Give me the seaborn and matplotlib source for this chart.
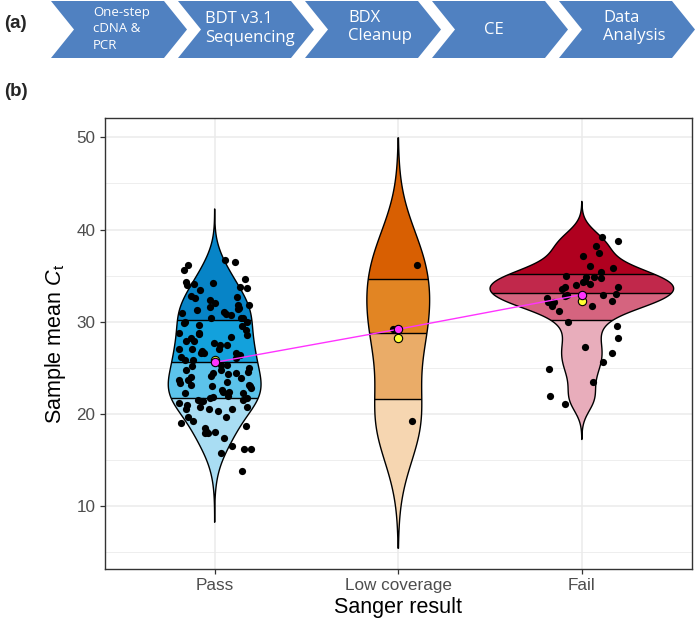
import numpy as np
import pandas as pd
import matplotlib
matplotlib.use("Agg")
import matplotlib.pyplot as plt
import seaborn as sns
from matplotlib.patches import Polygon, Rectangle

# ---------------- data ----------------
categories = ["Pass", "Low coverage", "Fail"]

pass_ct = [36.5, 36.7, 36.2, 35.6, 34.3, 34.6, 33.7, 34.0, 34.1, 33.8, 34.2, 33.5,
           32.8, 32.6, 32.4, 32.7, 32.0, 31.5, 31.8, 31.3, 31.8, 31.0, 31.6, 31.4,
           31.1, 30.9, 30.7, 30.4, 30.4, 30.4, 30.0, 29.7, 29.9, 30.0, 29.5, 29.1,
           28.6, 28.8, 28.7, 28.2, 28.8, 28.4, 27.9, 27.5, 27.9, 27.5, 27.1, 27.1,
           27.0, 27.7, 26.6, 26.8, 26.6, 25.9, 26.2, 26.4, 26.6, 26.1, 25.9, 25.3,
           24.8, 25.3, 25.2, 24.8, 24.6, 24.4, 24.3, 23.9, 23.5, 23.7, 23.7, 24.1,
           23.4, 23.0, 23.2, 23.2, 22.8, 22.4, 22.3, 22.4, 22.3, 21.9, 21.7, 21.5,
           21.7, 21.5, 21.4, 21.4, 21.2, 21.0, 20.8, 20.6, 20.5, 20.8, 20.5, 19.7,
           20.3, 19.7, 19.2, 19.0, 18.7, 18.5, 18.2, 18.1, 18.0, 17.9, 17.4, 16.5,
           16.2, 16.2, 15.8, 13.8, 25.0, 24.5, 23.0, 22.6, 24.0, 22.0]
low_ct = [36.2, 29.2, 19.2]
fail_ct = [38.8, 39.2, 38.2, 37.5, 37.1, 35.8, 36.1, 35.0, 34.4, 34.9, 34.9, 35.4,
           34.7, 34.3, 34.0, 34.1, 33.8, 33.8, 33.6, 33.0, 32.8, 32.9, 32.6, 32.2,
           32.1, 31.7, 31.7, 31.2, 30.0, 29.6, 28.2, 27.3, 26.6, 25.6, 24.9, 23.5,
           22.0, 21.1, 32.9, 32.3]

# quartile band colours, from top band to bottom band
band_colors = {
    "Pass": ["#0784c7", "#13a1dc", "#5cc3ea", "#a9ddf3"],
    "Low coverage": ["#d85f02", "#e28523", "#eaac68", "#f6d6b1"],
    "Fail": ["#b0001f", "#c1284b", "#d5647f", "#e8adbb"],
}

steps = ["One-step\ncDNA &\nPCR", "BDT v3.1\nSequencing", "BDX\nCleanup", "CE", "Data\nAnalysis"]

df = pd.DataFrame({
    "result": ["Pass"] * len(pass_ct) + ["Low coverage"] * len(low_ct) + ["Fail"] * len(fail_ct),
    "ct": pass_ct + low_ct + fail_ct,
})

# ---------------- style ----------------
sns.set_style("white")
plt.rcParams["font.family"] = ["Liberation Sans", "DejaVu Sans"]
plt.rcParams["mathtext.fontset"] = "custom"
plt.rcParams["mathtext.rm"] = "Liberation Sans"
plt.rcParams["mathtext.it"] = "Liberation Sans:italic"


def nrd0(kde):
    x = np.asarray(kde.dataset).ravel()
    sd = x.std(ddof=1)
    q75, q25 = np.percentile(x, [75, 25])
    h = 0.9 * min(sd, (q75 - q25) / 1.34) * len(x) ** -0.2
    return h / sd


W, H = 697, 618
fig = plt.figure(figsize=(W / 100, H / 100), dpi=100)
ax = fig.add_axes([104.5 / W, (H - 569) / H, 587.5 / W, 451 / H])

top_colors = {k: v[0] for k, v in band_colors.items()}
n0 = len(ax.collections)
sns.violinplot(data=df, x="result", y="ct", order=categories, hue="result",
               hue_order=categories, palette=top_colors, legend=False, inner=None,
               cut=3, bw_method=nrd0, width=1.0, density_norm="area", common_norm=True,
               gridsize=512, linewidth=1.0, linecolor="black", saturation=1, ax=ax)
violins = ax.collections[n0:]

for i, (cat, coll) in enumerate(zip(categories, violins)):
    path = coll.get_paths()[0]
    verts = path.vertices
    right = verts[verts[:, 0] > i + 1e-9]
    order = np.argsort(right[:, 1])
    y = right[order, 1]
    w = right[order, 0] - i
    seg = 0.5 * (w[1:] + w[:-1]) * np.diff(y)
    cdf = np.concatenate([[0], np.cumsum(seg)])
    cdf /= cdf[-1]
    qs = np.interp([0.25, 0.5, 0.75], cdf, y)
    edges = [y.min() - 1, qs[0], qs[1], qs[2], y.max() + 1]
    cols = band_colors[cat][::-1]
    for j in range(4):
        r = Rectangle((i - 0.6, edges[j]), 1.2, edges[j + 1] - edges[j],
                      facecolor=cols[j], edgecolor="none", zorder=1.5)
        ax.add_patch(r)
        r.set_clip_path(path, ax.transData)
    for q in qs:
        ln, = ax.plot([i - 0.6, i + 0.6], [q, q], color="black", lw=1.0, zorder=1.8)
        ln.set_clip_path(path, ax.transData)
    coll.set_facecolor("none")
    coll.set_zorder(2)

# pick a jitter seed whose low-coverage spread resembles the original
wanted = np.array([0.10, -0.03, 0.05])
best_seed, best_err = 0, 1e9
for s in range(5000):
    np.random.seed(s)
    np.random.uniform(-0.2, 0.2, len(pass_ct))
    b = np.random.uniform(-0.2, 0.2, len(low_ct))
    err = np.sum((b - wanted) ** 2)
    if err < best_err:
        best_seed, best_err = s, err
np.random.seed(best_seed)
sns.stripplot(data=df, x="result", y="ct", order=categories, color="black",
              size=5.2, jitter=0.2, ax=ax, zorder=3)

sns.pointplot(data=df, x="result", y="ct", order=categories, estimator="mean",
              errorbar=None, color="#ffff33", linestyle="none", markers="o",
              markersize=6, markeredgecolor="black", markeredgewidth=0.8, ax=ax)
sns.pointplot(data=df, x="result", y="ct", order=categories, estimator="median",
              errorbar=None, color="#ff33ff", markers="o", linewidth=1.0,
              markersize=6, markeredgecolor="black", markeredgewidth=0.8, ax=ax)
for ln in ax.lines[-2:]:
    ln.set_zorder(4)

ax.set_xlim(-0.6, 2.6)
ax.set_ylim(3.2, 52.1)
ax.set_yticks([10, 20, 30, 40, 50])
ax.set_yticks([5, 15, 25, 35, 45], minor=True)
ax.grid(which="major", color="#ebebeb", lw=1.1)
ax.grid(which="minor", axis="y", color="#ebebeb", lw=0.6)
ax.set_axisbelow(True)
for s in ax.spines.values():
    s.set_visible(True)
    s.set_color("#333333")
    s.set_linewidth(1.0)
ax.tick_params(which="major", length=3.5, width=0.9, color="#333333",
               labelcolor="#4d4d4d", labelsize=12.3, pad=3, left=True, bottom=True)
ax.tick_params(which="minor", length=0)
ax.set_xlabel("Sanger result", fontsize=15.5, color="black", labelpad=3)
ax.set_ylabel("Sample mean $C_{\\mathrm{t}}$", fontsize=15.5, color="black", labelpad=6)

fig.text(4 / W, 1 - 92 / H, "(b)", fontsize=13.5, fontweight="bold", va="center", ha="left")
fig.text(4 / W, 1 - 24 / H, "(a)", fontsize=13.5, fontweight="bold", va="center", ha="left")

# ---------------- workflow banner ----------------
axb = fig.add_axes([0, 1 - 62 / H, 1, 62 / H])
axb.set_xlim(0, W)
axb.set_ylim(62, 0)
axb.axis("off")
y0, y1 = 1, 58
ym = (y0 + y1) / 2
body, d = 113, 23
text_x = [93, 205, 348, 484, 603]
text_y = [29, 28.5, 27, 30, 27]
text_size = [9.5, 12, 12, 12, 12]
text_ls = [1.35, 1.25, 1.25, 1.25, 1.25]
for k, label in enumerate(steps):
    L = 51 + 127 * k
    poly = Polygon([(L, y0), (L + body, y0), (L + body + d, ym), (L + body, y1),
                    (L, y1), (L + d, ym)], closed=True, facecolor="#5081c1",
                   edgecolor="none")
    axb.add_patch(poly)
    axb.text(text_x[k], text_y[k], label, color="white", fontsize=text_size[k],
             family=["Open Sans", "DejaVu Sans"], ha="left", va="center",
             linespacing=text_ls[k])

fig.savefig("out.png", dpi=100)
